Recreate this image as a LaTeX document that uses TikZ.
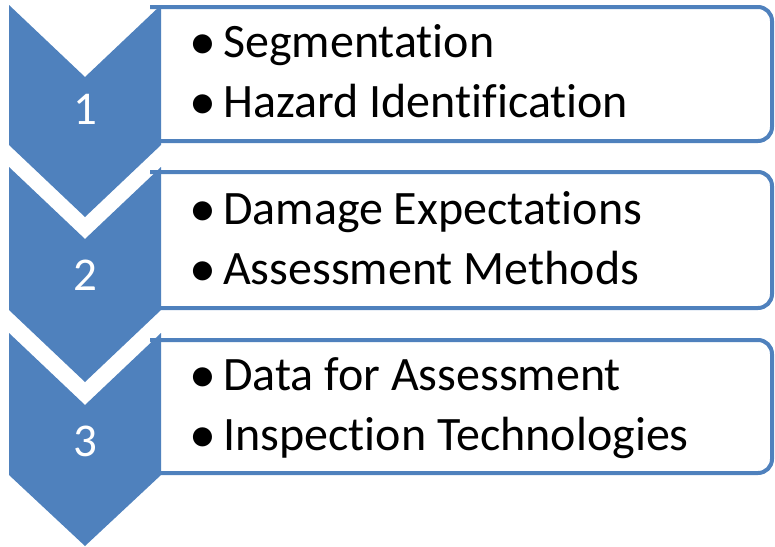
\documentclass[tikz,border=0pt]{standalone}
\usepackage{fontspec}
\setmainfont{Carlito}[RawFeature={-liga;-clig;-dlig}]
\definecolor{chevblue}{HTML}{4F81BD}
\tikzset{
  chevron/.style={fill=chevblue},
  listbox/.style={draw=chevblue, line width=4pt, fill=white, rounded corners=14pt},
  stepnum/.style={text=white, font=\fontsize{47}{55}\selectfont, inner sep=0pt, anchor=base},
  bulletline/.style={font=\fontsize{48}{55}\selectfont, inner sep=0pt, anchor=base west}
}
\newcommand{\bul}{\makebox[34pt][l]{\raisebox{-2pt}{\fontsize{54}{54}\selectfont\textbullet}}}
% keeps t and i apart (no "ti" ligature)
\newcommand{\tI}{t\kern0pt i}
\begin{document}
\begin{tikzpicture}[x=1pt, y=-1pt]
    \useasboundingbox (0, 0) rectangle (775, 546);

    % boxes on the right
    \draw[listbox] (150, 7) -- (772, 7) -- (772, 141) -- (150, 141);
    \draw[listbox] (150, 172) -- (772, 172) -- (772, 308) -- (150, 308);
    \draw[listbox] (150, 340) -- (772, 340) -- (772, 473) -- (150, 473);

    % chevrons
    \fill[chevron] (9, 5) -- (85, 77) -- (161, 5) -- (161, 145) -- (85, 217) -- (9, 145) -- cycle;
    \fill[chevron] (9, 167) -- (85, 239) -- (161, 167) -- (161, 310) -- (85, 382) -- (9, 310) -- cycle;
    \fill[chevron] (9, 333) -- (85, 405) -- (161, 333) -- (161, 475) -- (85, 546) -- (9, 475) -- cycle;

    \node[stepnum] (num1) at (85, 124) {1};
    \node[stepnum] (num2) at (85, 290) {2};
    \node[stepnum] (num3) at (85, 456) {3};

    % bullet text
    \node[bulletline] (seg) at (189, 57) {\bul Segmenta\tI on};
    \node[bulletline] (haz) at (189, 117) {\bul Hazard Iden\tI fica\tI on};
    \node[bulletline] (dam) at (189, 224) {\bul Damage Expecta\tI ons};
    \node[bulletline] (asm) at (189, 284) {\bul Assessment Methods};
    \node[bulletline] (dat) at (189, 390) {\bul Data for Assessment};
    \node[bulletline] (ins) at (189, 450) {\bul Inspec\tI on Technologies};
\end{tikzpicture}
\end{document}
